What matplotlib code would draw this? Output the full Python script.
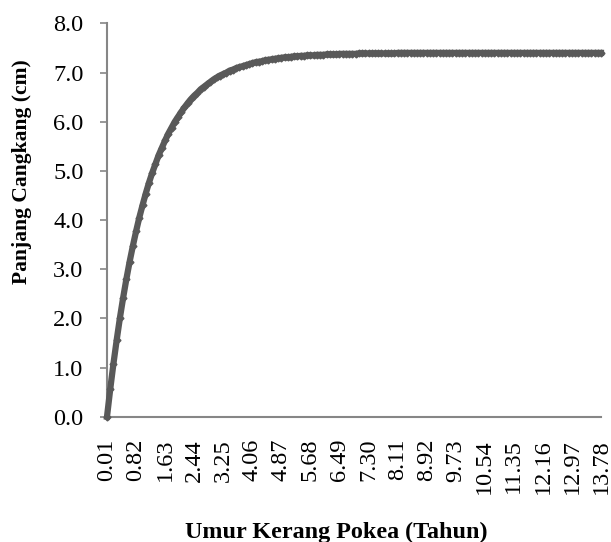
import matplotlib
matplotlib.use("Agg")
import matplotlib.pyplot as plt

# Panjang cangkang (cm) per umur, kategori 0.01, 0.10, 0.19, ... 13.78 (langkah 0.09)
panjang = [
    0.00, 0.56, 1.08, 1.56, 2.01, 2.42, 2.80, 3.15, 3.47, 3.77,
    4.05, 4.30, 4.54, 4.76, 4.96, 5.14, 5.32, 5.47, 5.62, 5.76,
    5.88, 6.00, 6.10, 6.20, 6.29, 6.38, 6.46, 6.53, 6.59, 6.66,
    6.71, 6.76, 6.81, 6.86, 6.90, 6.94, 6.97, 7.00, 7.04, 7.06,
    7.09, 7.11, 7.13, 7.15, 7.17, 7.19, 7.21, 7.22, 7.23, 7.25,
    7.26, 7.27, 7.28, 7.29, 7.30, 7.31, 7.31, 7.32, 7.33, 7.33,
    7.34, 7.34, 7.35, 7.35, 7.35, 7.36, 7.36, 7.36, 7.37, 7.37,
    7.37, 7.37, 7.38, 7.38, 7.38, 7.38, 7.38, 7.38, 7.39, 7.39,
    7.39, 7.39, 7.39, 7.39, 7.39, 7.39, 7.39, 7.39, 7.39, 7.39,
    7.40, 7.40, 7.40, 7.40, 7.40, 7.40, 7.40, 7.40, 7.40, 7.40,
    7.40, 7.40, 7.40, 7.40, 7.40, 7.40, 7.40, 7.40, 7.40, 7.40,
    7.40, 7.40, 7.40, 7.40, 7.40, 7.40, 7.40, 7.40, 7.40, 7.40,
    7.40, 7.40, 7.40, 7.40, 7.40, 7.40, 7.40, 7.40, 7.40, 7.40,
    7.40, 7.40, 7.40, 7.40, 7.40, 7.40, 7.40, 7.40, 7.40, 7.40,
    7.40, 7.40, 7.40, 7.40, 7.40, 7.40, 7.40, 7.40, 7.40, 7.40,
    7.40, 7.40, 7.40, 7.40,
]

# label sumbu x (tiap 9 kategori)
label_umur = ["0.01", "0.82", "1.63", "2.44", "3.25", "4.06", "4.87", "5.68",
              "6.49", "7.30", "8.11", "8.92", "9.73", "10.54", "11.35",
              "12.16", "12.97", "13.78"]
label_y = ["0.0", "1.0", "2.0", "3.0", "4.0", "5.0", "6.0", "7.0", "8.0"]

plt.rcParams['font.family'] = ['Liberation Serif', 'DejaVu Serif']

fig = plt.figure(figsize=(6.11, 5.42), dpi=100)
ax = fig.add_axes([107 / 611, 1 - 416.7 / 542, (601 - 107) / 611, (416.7 - 23.4) / 542])

x = list(range(len(panjang)))
ax.plot(x, panjang, color='#595959', linewidth=4.5, marker='D', markersize=3.5,
        markerfacecolor='#595959', markeredgecolor='#595959', clip_on=False, zorder=3)

ax.set_xlim(0, len(panjang) - 1)
ax.set_ylim(0, 8)

ax.set_xticks(x[::9])
ax.set_xticklabels(label_umur, rotation=90, fontsize=17.5)
ax.set_yticks(range(len(label_y)))
ax.set_yticklabels(label_y, fontsize=17.5)

ax.tick_params(axis='x', length=0, pad=16)
ax.tick_params(axis='y', length=5, width=1.2, color='#868686', pad=12, direction='out')

for s in ['top', 'right']:
    ax.spines[s].set_visible(False)
for s in ['left', 'bottom']:
    ax.spines[s].set_color('#868686')
    ax.spines[s].set_linewidth(1.5)

fig.text(336 / 611, 1 - 532 / 542, "Umur Kerang Pokea (Tahun)", fontsize=17.4,
         fontweight='bold', ha='center', va='center')
fig.text(22 / 611, 1 - 172 / 542, "Panjang Cangkang (cm)", fontsize=15.5,
         fontweight='bold', ha='center', va='center', rotation=90)

fig.savefig("out.png", dpi=100)
